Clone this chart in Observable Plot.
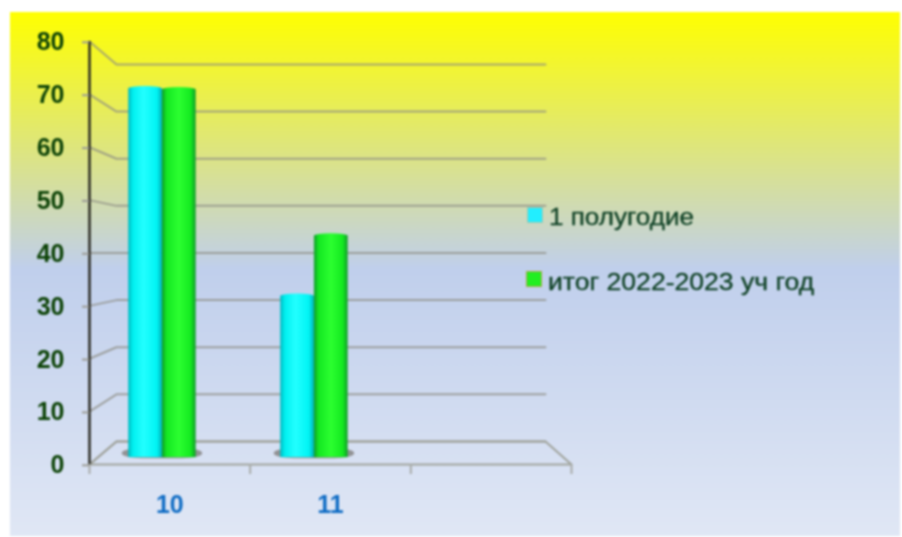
<!DOCTYPE html>
<html lang="ru">
<head>
<meta charset="utf-8">
<script src="https://cdn.jsdelivr.net/npm/d3@7"></script>
<script src="https://cdn.jsdelivr.net/npm/@observablehq/plot@0.6"></script>
<style>
html,body{margin:0;padding:0;background:#fff;}
#wrap{position:relative;width:902px;height:537px;overflow:hidden;background:#fff;filter:blur(1px);font-family:"Liberation Sans",Arial,sans-serif;}
#panel{position:absolute;left:10px;top:12px;width:890px;height:524px;background:linear-gradient(180deg,#ffff00 0%,#c0cfec 49%,#e0e7f5 100%);}
#chart{position:absolute;left:0;top:0;}
#chart svg{background:transparent;display:block;}
.lg{position:absolute;color:#0e4024;-webkit-text-stroke:.3px #0e4024;font-size:24px;line-height:26px;white-space:nowrap;transform-origin:left center;}
.sw{position:absolute;width:14px;height:14px;}
</style>
</head>
<body>
<div id="wrap"><div id="panel"></div><div id="chart"></div>
<div class="sw" style="left:527px;top:207px;background:#22eeff;border:1px solid #9fc8b0"></div>
<div class="lg" style="left:549px;top:204px;transform:scaleX(1.085)">1 полугодие</div>
<div class="sw" style="left:526px;top:271px;background:#22ee22;border:1px solid #a8a848"></div>
<div class="lg" style="left:548px;top:269px;transform:scaleX(1.107)">итог 2022-2023 уч год</div>
</div>
<script>
const categories = ["10", "11"];
const halfYear = [72.6, 32];
const yearTotal = [72.4, 43.8];
const yTicks = [0, 10, 20, 30, 40, 50, 60, 70, 80];
const xCuts = [0, 1, 2, 3];

// 3D pseudo-perspective of the chart's walls, in data units
const back = v => 4.35 + v * 0.8913;
const barPlane = v => 1.3 + v * 0.967;
const groupAt = i => 0.454 + i * 0.946;
const barW = 0.21;

const rows = categories.map((c, i) => ({c, i, x: groupAt(i), a: halfYear[i], b: yearTotal[i]}));
const grid = yTicks.flatMap(v => [
  {v, x: 0, y: v},
  {v, x: 0.168, y: back(v)},
  {v, x: 2.838, y: back(v)}
]);
const floor = [
  {x: 0, y: 0}, {x: 0.168, y: back(0)}, {x: 2.838, y: back(0)}, {x: 3, y: 0}
];

function gradients() {
  const ns = "http://www.w3.org/2000/svg";
  const defs = document.createElementNS(ns, "defs");
  const make = (id, stops) => {
    const g = document.createElementNS(ns, "linearGradient");
    g.setAttribute("id", id);
    stops.forEach(([o, c]) => {
      const s = document.createElementNS(ns, "stop");
      s.setAttribute("offset", o);
      s.setAttribute("stop-color", c);
      g.appendChild(s);
    });
    defs.appendChild(g);
  };
  make("cyl-cyan", [[0, "#00b8c0"], [0.14, "#00f0f0"], [0.45, "#22ffff"], [0.85, "#00f4f4"], [1, "#00b0b8"]]);
  make("cyl-green", [[0, "#0f9a2a"], [0.14, "#14e822"], [0.5, "#2cff30"], [0.85, "#14ea20"], [1, "#109a28"]]);
  return defs;
}

const plot = Plot.plot({
  width: 902,
  height: 537,
  marginLeft: 89,
  marginRight: 331,
  marginTop: 41,
  marginBottom: 73,
  style: {background: "transparent", overflow: "visible"},
  x: {domain: [0, 3], axis: null},
  y: {domain: [0, 80], axis: null},
  marks: [
    () => gradients(),
    Plot.line(grid, {x: "x", y: "y", z: "v", stroke: "#8d8d84", strokeWidth: 2, strokeOpacity: 0.75}),
    Plot.line(floor, {x: "x", y: "y", stroke: "#a0a39c", strokeWidth: 2}),
    Plot.ruleY([0], {stroke: "#a0a39c", strokeWidth: 2}),
    Plot.ruleX(xCuts, {y1: 0, y2: -1.9, stroke: "#a8aba8", strokeWidth: 2}),
    Plot.ruleX([0], {y1: 0, y2: 80, stroke: "#2a2a22", strokeWidth: 2.5}),
    Plot.axisY({
      ticks: yTicks, tickSize: 7, tickPadding: 18, stroke: "#9c9c96",
      fill: "#0c4206", fontSize: 25, fontWeight: "bold", label: null, strokeWidth: 2,
      fontFamily: "Liberation Sans", dy: 0.8
    }),
    Plot.axisX({
      ticks: [0.5, 1.5], tickFormat: t => categories[Math.floor(t)], tickSize: 0, tickPadding: 31,
      fill: "#0f6cc4", fontSize: 25, fontWeight: "bold", label: null, fontFamily: "Liberation Sans"
    }),
    // shadow on the floor
    Plot.rect(rows, {
      x1: d => d.x - barW - 0.04, x2: d => d.x + barW + 0.04,
      y1: 1.1, y2: 3.0, fill: "#8a8a8a", rx: 20, ry: 5, fillOpacity: 0.9
    }),
    Plot.rect(rows, {
      x1: d => d.x - barW, x2: "x",
      y1: 1.3, y2: d => barPlane(d.a) - 0.5, fill: "url(#cyl-cyan)"
    }),
    Plot.rect(rows, {
      x1: d => d.x - barW, x2: "x",
      y1: d => barPlane(d.a) - 1, y2: d => barPlane(d.a), fill: "url(#cyl-cyan)", rx: 17, ry: 3
    }),
    Plot.rect(rows, {
      x1: "x", x2: d => d.x + barW,
      y1: 1.3, y2: d => barPlane(d.b) - 0.5, fill: "url(#cyl-green)"
    }),
    Plot.rect(rows, {
      x1: "x", x2: d => d.x + barW,
      y1: d => barPlane(d.b) - 1, y2: d => barPlane(d.b), fill: "url(#cyl-green)", rx: 17, ry: 3
    })
  ]
});
document.getElementById("chart").appendChild(plot);
</script>
</body>
</html>
